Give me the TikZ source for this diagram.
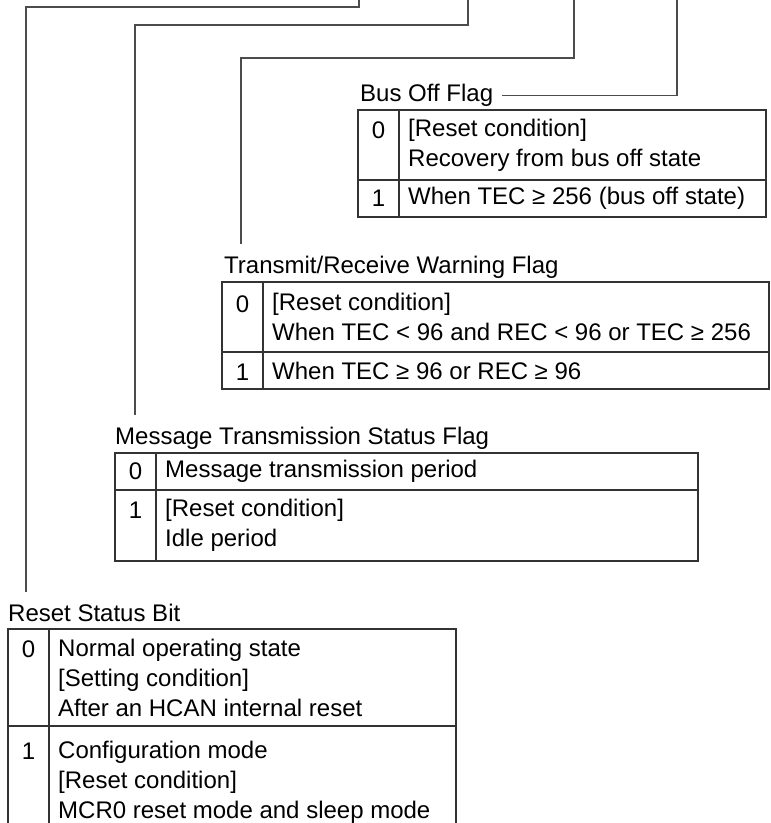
\documentclass[tikz,border=0pt]{standalone}
\usepackage{fontspec}
\setmainfont{Liberation Sans}

\begin{document}
\begin{tikzpicture}[
    x=1pt, y=-1pt,
    every node/.style={font=\fontsize{24pt}{30pt}\selectfont, inner sep=0pt},
    title/.style={anchor=base west},
    bitnum/.style={anchor=north, yshift=-2.5pt},
    cell/.style={anchor=west, align=left},
    frame/.style={draw=black!80, line width=1.2pt},
    lead/.style={draw=black!70, line width=1.1pt}
]
\useasboundingbox (0,0) rectangle (771,823);

% Leader lines enter from the top edge
\coordinate (rsttop) at (359,0);
\coordinate (mtstop) at (468,0);
\coordinate (trwtop) at (574,0);
\coordinate (bustop) at (677,0);

% Bus Off Flag
\node[title] (buslabel) at (360,101.5) {Bus Off Flag};
\draw[frame] (358,110) rectangle (766,217);
\draw[frame] (399,110) -- (399,217) (358,180) -- (766,180);
\node[cell] (bus0txt) at (408,145) {[Reset condition]\\Recovery from bus off state};
\node[bitnum] (bus0) at (378.5,0 |- bus0txt.north) {0};
\node[cell] (bus1txt) at (408,198.5) {When TEC ≥ 256 (bus off state)};
\node[bitnum] (bus1) at (378.5,0 |- bus1txt.north) {1};

% Transmit/Receive Warning Flag
\node[title] (trwlabel) at (224,273.5) {Transmit/Receive Warning Flag};
\draw[frame] (222,282) rectangle (769,389);
\draw[frame] (263,282) -- (263,389) (222,352) -- (769,352);
\node[cell] (trw0txt) at (272,317) {[Reset condition]\\When TEC < 96 and REC < 96 or TEC ≥ 256};
\node[bitnum] (trw0) at (242.5,0 |- trw0txt.north) {0};
\node[cell] (trw1txt) at (272,370.5) {When TEC ≥ 96 or REC ≥ 96};
\node[bitnum] (trw1) at (242.5,0 |- trw1txt.north) {1};

% Message Transmission Status Flag
\node[title] (mtslabel) at (115,444.5) {Message Transmission Status Flag};
\draw[frame] (115,453) rectangle (698,561);
\draw[frame] (156,453) -- (156,561) (115,490) -- (698,490);
\node[cell] (mts0txt) at (165,471.5) {Message transmission period};
\node[bitnum] (mts0) at (135.5,0 |- mts0txt.north) {0};
\node[cell] (mts1txt) at (165,525.5) {[Reset condition]\\Idle period};
\node[bitnum] (mts1) at (135.5,0 |- mts1txt.north) {1};

% Reset Status Bit (table runs off the bottom)
\node[title] (rstlabel) at (8,621.5) {Reset Status Bit};
\draw[frame] (8,823) -- (8,629) -- (456,629) -- (456,823);
\draw[frame] (49,629) -- (49,823) (8,726) -- (456,726);
\node[cell] (rst0txt) at (58,677.5) {Normal operating state\\{}[Setting condition]\\After an HCAN internal reset};
\node[bitnum] (rst0) at (28.5,0 |- rst0txt.north) {0};
\node[cell] (rst1txt) at (58,782) {Configuration mode\\{}[Reset condition]\\MCR0 reset mode and sleep mode};
\node[bitnum] (rst1) at (28.5,0 |- rst1txt.north) {1};

% Leaders
\draw[lead] (rsttop) -- ++(0,7) -| ([xshift=18pt,yshift=12pt]rstlabel.north west);
\draw[lead] (mtstop) -- ++(0,25) -| ([xshift=20pt,yshift=12pt]mtslabel.north west);
\draw[lead] (trwtop) -- ++(0,58) -| ([xshift=17pt,yshift=12pt]trwlabel.north west);
\draw[lead] (bustop) |- ([xshift=9pt]buslabel.east);

\end{tikzpicture}
\end{document}
